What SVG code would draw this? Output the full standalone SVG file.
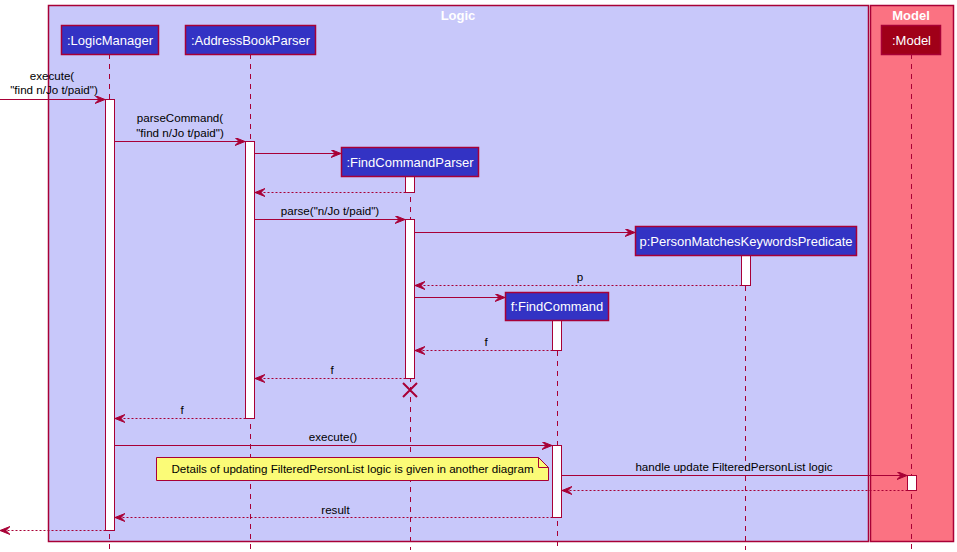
<svg xmlns="http://www.w3.org/2000/svg" width="957" height="552" viewBox="0 0 957 552">
<style>
.frame{stroke:#A80036;stroke-width:1.5}
.ttl{font-family:"Liberation Sans",Arial,sans-serif;font-size:13px;font-weight:bold;fill:#FFFFFF;text-anchor:middle}
.life{stroke:#A80036;stroke-width:1;stroke-dasharray:5,5;fill:none}
.part{fill:#3333C4;stroke:#A80036;stroke-width:1.5}
.ptxt{font-family:"Liberation Sans",Arial,sans-serif;font-size:13px;fill:#FFFFFF;text-anchor:middle}
.act{fill:#FFFFFF;stroke:#A80036;stroke-width:1}
.msg{stroke:#A80036;stroke-width:1;fill:none;marker-end:url(#ah)}
.ret{stroke:#A80036;stroke-width:1;fill:none;stroke-dasharray:2,2;marker-end:url(#ah)}
.lbl{font-family:"Liberation Sans",Arial,sans-serif;font-size:11.6px;fill:#000000;text-anchor:middle}
</style>
<defs>
<marker id="ah" markerUnits="userSpaceOnUse" markerWidth="11" markerHeight="9" refX="10" refY="4" orient="auto">
<path d="M0,0 L10,4 L0,8 L4,4 Z" fill="#A80036" stroke="#A80036" stroke-width="1"/>
</marker>
</defs>

<g id="frame-logic">
<rect class="frame" x="48.5" y="5.5" width="820" height="536" fill="#C8C8FA"/>
<text class="ttl" x="458" y="19.5">Logic</text>
</g>
<g id="frame-model">
<rect class="frame" x="870.5" y="5.5" width="83" height="536" fill="#FB7282"/>
<text class="ttl" x="911" y="19.5">Model</text>
</g>

<g id="lifelines">
<line class="life" x1="109.5" y1="54" x2="109.5" y2="550"/>
<line class="life" x1="250.5" y1="54" x2="250.5" y2="550"/>
<line class="life" x1="410.5" y1="177" x2="410.5" y2="550"/>
<line class="life" x1="745.5" y1="256" x2="745.5" y2="550"/>
<line class="life" x1="557.5" y1="321" x2="557.5" y2="550"/>
<line class="life" x1="911.5" y1="54" x2="911.5" y2="550"/>
</g>

<g id="activations">
<rect class="act" x="105.5" y="99.5" width="9" height="431"/>
<rect class="act" x="245.5" y="141.5" width="9" height="277"/>
<rect class="act" x="405.5" y="176.5" width="9" height="16"/>
<rect class="act" x="405.5" y="219.5" width="9" height="159"/>
<rect class="act" x="741.5" y="255.5" width="9" height="30"/>
<rect class="act" x="552.5" y="320.5" width="9" height="30"/>
<rect class="act" x="552.5" y="445.5" width="9" height="72"/>
<rect class="act" x="907.5" y="475.5" width="9" height="15"/>
</g>

<g id="LogicManager">
<rect class="part" x="61.5" y="25.5" width="97" height="29"/>
<text class="ptxt" x="110" y="44.5">:LogicManager</text>
</g>
<g id="AddressBookParser">
<rect class="part" x="185.5" y="25.5" width="130" height="29"/>
<text class="ptxt" x="250.5" y="44.5">:AddressBookParser</text>
</g>
<g id="FindCommandParser">
<rect class="part" x="341.5" y="147.5" width="137" height="29"/>
<text class="ptxt" x="410" y="166.5">:FindCommandParser</text>
</g>
<g id="PersonMatchesKeywordsPredicate">
<rect class="part" x="635.5" y="226.5" width="221" height="29"/>
<text class="ptxt" x="746" y="245.5">p:PersonMatchesKeywordsPredicate</text>
</g>
<g id="FindCommand">
<rect class="part" x="505.5" y="292.5" width="103" height="28"/>
<text class="ptxt" x="557" y="311">f:FindCommand</text>
</g>
<g id="Model">
<rect x="881.5" y="25.5" width="59" height="29" fill="#A00018" stroke="#A80036" stroke-width="1.5"/>
<text class="ptxt" x="911.5" y="44.5">:Model</text>
</g>

<g id="connectors">
<line class="msg" x1="0" y1="99.5" x2="105" y2="99.5"/>
<text class="lbl" x="52" y="80">execute(</text>
<text class="lbl" x="54" y="94">"find n/Jo t/paid")</text>

<line class="msg" x1="114.5" y1="141.5" x2="245" y2="141.5"/>
<text class="lbl" x="180" y="122">parseCommand(</text>
<text class="lbl" x="180" y="136.5">"find n/Jo t/paid")</text>

<line class="msg" x1="254.5" y1="153.5" x2="341" y2="153.5"/>
<line class="ret" x1="405.5" y1="192.5" x2="255" y2="192.5"/>

<line class="msg" x1="254.5" y1="219.5" x2="405" y2="219.5"/>
<text class="lbl" x="330" y="215">parse("n/Jo t/paid")</text>

<line class="msg" x1="414.5" y1="232.5" x2="635" y2="232.5"/>
<line class="ret" x1="741.5" y1="285.5" x2="415" y2="285.5"/>
<text class="lbl" x="580" y="281">p</text>

<line class="msg" x1="414.5" y1="297.5" x2="505" y2="297.5"/>
<line class="ret" x1="552.5" y1="350.5" x2="415" y2="350.5"/>
<text class="lbl" x="486" y="346">f</text>

<line class="ret" x1="405.5" y1="378.5" x2="255" y2="378.5"/>
<text class="lbl" x="332" y="374">f</text>

<path d="M403,383 L417,397 M417,383 L403,397" stroke="#A80036" stroke-width="2" fill="none"/>

<line class="ret" x1="245.5" y1="418.5" x2="115" y2="418.5"/>
<text class="lbl" x="182" y="414">f</text>

<line class="msg" x1="114.5" y1="445.5" x2="552" y2="445.5"/>
<text class="lbl" x="333" y="441">execute()</text>

<line class="msg" x1="561.5" y1="475.5" x2="907" y2="475.5"/>
<text class="lbl" x="734" y="470.5">handle update FilteredPersonList logic</text>
<line class="ret" x1="907.5" y1="490.5" x2="562" y2="490.5"/>

<line class="ret" x1="552.5" y1="517.5" x2="115" y2="517.5"/>
<text class="lbl" x="335.5" y="513.5">result</text>

<line class="ret" x1="105.5" y1="530.5" x2="0" y2="530.5"/>
</g>

<g id="note">
<path d="M156.5,457.5 L538.5,457.5 L548.5,467.5 L548.5,480.5 L156.5,480.5 Z" fill="#FBFB77" stroke="#A80036" stroke-width="1"/>
<path d="M538.5,457.5 L538.5,467.5 L548.5,467.5" fill="none" stroke="#A80036" stroke-width="1"/>
<text class="lbl" x="352.5" y="473">Details of updating FilteredPersonList logic is given in another diagram</text>
</g>
</svg>
